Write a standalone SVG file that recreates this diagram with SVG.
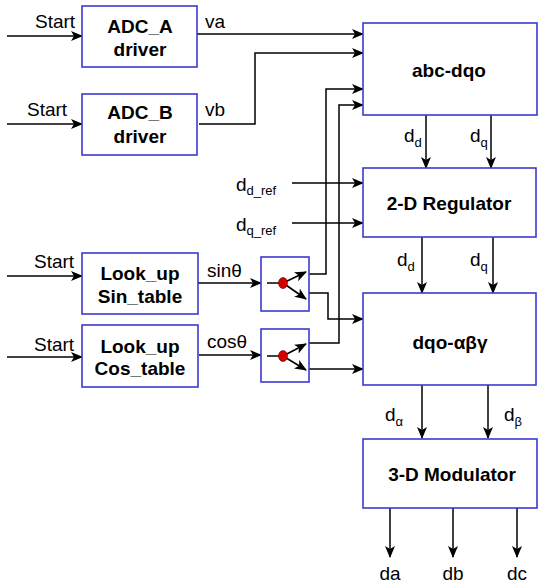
<svg xmlns="http://www.w3.org/2000/svg" width="541" height="585" viewBox="0 0 541 585">
<defs>
<marker id="ah" viewBox="0 0 12 10" refX="11" refY="5" markerWidth="12" markerHeight="10" markerUnits="userSpaceOnUse" orient="auto">
<path d="M0,0 L12,5 L0,10 L3,5 z" fill="#000"/>
</marker>
<marker id="sm" viewBox="0 0 12 10" refX="11" refY="5" markerWidth="12" markerHeight="10" markerUnits="userSpaceOnUse" orient="auto">
<path d="M0,0 L12,5 L0,10 L3,5 z" fill="#000"/>
</marker>
</defs>
<style>
.box{fill:#fff;stroke:#3a3ad0;stroke-width:1.6}
.bt{font-family:"Liberation Sans",Arial,sans-serif;font-weight:bold;font-size:19px;text-anchor:middle;fill:#000}
.lt{font-family:"Liberation Sans",Arial,sans-serif;font-size:19px;fill:#000}
.sub{font-size:13px}
.ln{fill:none;stroke:#000;stroke-width:1.5}
.ar{fill:none;stroke:#000;stroke-width:1.5;marker-end:url(#ah)}
.sa{fill:none;stroke:#000;stroke-width:1.6;marker-end:url(#sm)}
</style>
<rect width="541" height="585" fill="#fff"/>

<g id="connectors">
<path class="ar" d="M7,36 H82"/>
<path class="ar" d="M7,124 H82"/>
<path class="ar" d="M7,276 H82"/>
<path class="ar" d="M7,357 H82"/>
<path class="ar" d="M197,34 H363"/>
<path class="ar" d="M199,124 H255 V53 H363"/>
<path class="ar" d="M198,283 H261"/>
<path class="ar" d="M199,355 H261"/>
<path class="ar" d="M309,274 H326 V89 H363"/>
<path class="ar" d="M309,343 H339 V105 H363"/>
<path class="ar" d="M309,293 H328 V319 H363"/>
<path class="ar" d="M309,369 H363"/>
<path class="ar" d="M292,183 H363"/>
<path class="ar" d="M292,223 H363"/>
<path class="ar" d="M426,115 V168"/>
<path class="ar" d="M491,115 V168"/>
<path class="ar" d="M422,237 V293"/>
<path class="ar" d="M493,237 V293"/>
<path class="ar" d="M422,385 V438"/>
<path class="ar" d="M488,385 V438"/>
<path class="ar" d="M390,508 V557"/>
<path class="ar" d="M453,508 V557"/>
<path class="ar" d="M517,508 V557"/>
</g>

<g id="adc_a">
<rect class="box" x="82" y="6" width="115" height="61"/>
<text class="bt" x="140" y="33">ADC_A</text>
<text class="bt" x="140" y="56">driver</text>
</g>
<g id="adc_b">
<rect class="box" x="82" y="94" width="115" height="61"/>
<text class="bt" x="140" y="119">ADC_B</text>
<text class="bt" x="140" y="143">driver</text>
</g>
<g id="lookup_sin">
<rect class="box" x="82" y="253" width="116" height="61"/>
<text class="bt" x="140" y="280">Look_up</text>
<text class="bt" x="140" y="303">Sin_table</text>
</g>
<g id="lookup_cos">
<rect class="box" x="82" y="325" width="116" height="62"/>
<text class="bt" x="140" y="353">Look_up</text>
<text class="bt" x="140" y="375">Cos_table</text>
</g>
<g id="split_sin">
<rect class="box" x="261" y="257" width="48" height="54"/>
<path class="ln" d="M267,283 H283"/>
<path class="sa" d="M283,283 L306,272"/>
<path class="sa" d="M283,283 L306,299"/>
<ellipse cx="283" cy="283" rx="4.5" ry="5.5" fill="#d40000" stroke="#600" stroke-width="0.6"/>
</g>
<g id="split_cos">
<rect class="box" x="261" y="329" width="48" height="53"/>
<path class="ln" d="M267,356 H283"/>
<path class="sa" d="M283,356 L306,344"/>
<path class="sa" d="M283,356 L306,370"/>
<ellipse cx="283" cy="356" rx="4.5" ry="5.5" fill="#d40000" stroke="#600" stroke-width="0.6"/>
</g>
<g id="abc_dqo">
<rect class="box" x="363" y="23" width="174" height="92"/>
<text class="bt" x="449" y="77">abc-dqo</text>
</g>
<g id="regulator">
<rect class="box" x="363" y="168" width="173" height="69"/>
<text class="bt" x="449" y="210">2-D Regulator</text>
</g>
<g id="dqo_abg">
<rect class="box" x="363" y="293" width="173" height="92"/>
<text class="bt" x="450" y="349">dqo-αβγ</text>
</g>
<g id="modulator">
<rect class="box" x="363" y="439" width="174" height="69"/>
<text class="bt" x="452" y="481">3-D Modulator</text>
</g>

<g id="labels">
<text class="lt" x="35" y="28">Start</text>
<text class="lt" x="27" y="116">Start</text>
<text class="lt" x="34" y="268">Start</text>
<text class="lt" x="34" y="351">Start</text>
<text class="lt" x="205" y="28">va</text>
<text class="lt" x="205" y="116">vb</text>
<text class="lt" x="207" y="277">sinθ</text>
<text class="lt" x="207" y="348">cosθ</text>
<text class="lt" x="236" y="191">d<tspan class="sub" dy="4">d_ref</tspan></text>
<text class="lt" x="236" y="231">d<tspan class="sub" dy="4">q_ref</tspan></text>
<text class="lt" x="404" y="142">d<tspan class="sub" dy="5">d</tspan></text>
<text class="lt" x="470" y="142">d<tspan class="sub" dy="5">q</tspan></text>
<text class="lt" x="397" y="266">d<tspan class="sub" dy="5">d</tspan></text>
<text class="lt" x="470" y="266">d<tspan class="sub" dy="5">q</tspan></text>
<text class="lt" x="385" y="421">d<tspan class="sub" dy="5">α</tspan></text>
<text class="lt" x="504" y="421">d<tspan class="sub" dy="5">β</tspan></text>
<text class="lt" x="390" y="580" text-anchor="middle">da</text>
<text class="lt" x="453" y="580" text-anchor="middle">db</text>
<text class="lt" x="517" y="580" text-anchor="middle">dc</text>
</g>
</svg>
